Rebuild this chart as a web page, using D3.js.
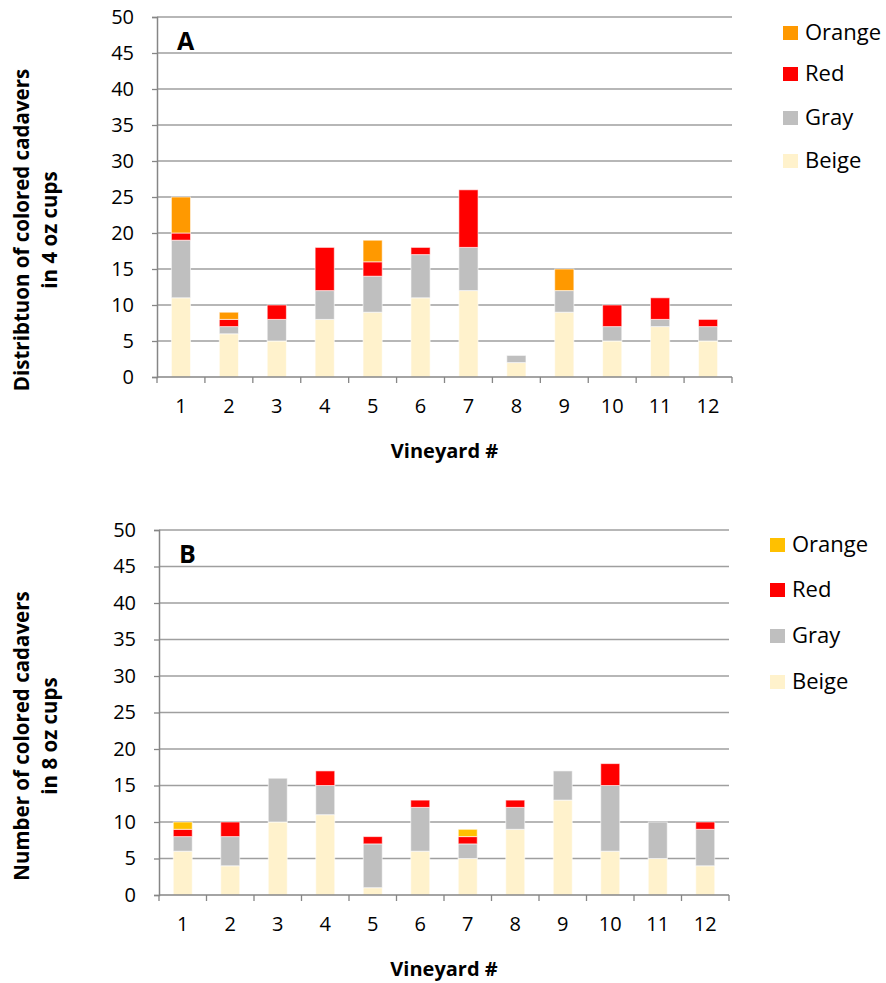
<!DOCTYPE html>
<html>
<head>
<meta charset="utf-8">
<script src="https://cdn.jsdelivr.net/npm/d3@7"></script>
<style>
  body { margin: 0; background: #fff; }
  text { font-family: "Open Sans", "Noto Sans", sans-serif; fill: #000; }
</style>
</head>
<body>
<div id="chart"></div>
<script>
// data
const vineyards = ["1","2","3","4","5","6","7","8","9","10","11","12"];
const colorNames = ["Beige", "Gray", "Red", "Orange"];
const yTicks = [0, 5, 10, 15, 20, 25, 30, 35, 40, 45, 50];

// panel A: 4 oz cups
const beigeA  = [11, 6, 5, 8, 9, 11, 12, 2, 9, 5, 7, 5];
const grayA   = [8, 1, 3, 4, 5, 6, 6, 1, 3, 2, 1, 2];
const redA    = [1, 1, 2, 6, 2, 1, 8, 0, 0, 3, 3, 1];
const orangeA = [5, 1, 0, 0, 3, 0, 0, 0, 3, 0, 0, 0];

// panel B: 8 oz cups
const beigeB  = [6, 4, 10, 11, 1, 6, 5, 9, 13, 6, 5, 4];
const grayB   = [2, 4, 6, 4, 6, 6, 2, 3, 4, 9, 5, 5];
const redB    = [1, 2, 0, 2, 1, 1, 1, 1, 0, 3, 0, 1];
const orangeB = [1, 0, 0, 0, 0, 0, 1, 0, 0, 0, 0, 0];

const width = 886, height = 983;

const svg = d3.select("#chart").append("svg")
  .attr("width", width)
  .attr("height", height);

const panels = [
  {
    letter: "A",
    series: [beigeA, grayA, redA, orangeA],
    colors: ["#FFF2CC", "#BFBFBF", "#FF0000", "#FF9900"],
    title: ["Distribtuon of colored cadavers", "in 4 oz cups"],
    titleY: 230,
    x0: 157, x1: 732, yTop: 17, yBot: 377,
    legendX: 783, legendY: [33, 74, 118, 161]
  },
  {
    letter: "B",
    series: [beigeB, grayB, redB, orangeB],
    colors: ["#FFF2CC", "#BFBFBF", "#FF0000", "#FFC000"],
    title: ["Number of colored cadavers", "in 8 oz cups"],
    titleY: 736,
    x0: 159, x1: 729, yTop: 530, yBot: 895,
    legendX: 770, legendY: [545, 590, 636, 682]
  }
];

panels.forEach(p => drawPanel(p));

function drawPanel(p) {
  const g = svg.append("g");

  const x = d3.scaleBand()
    .domain(vineyards)
    .range([p.x0, p.x1])
    .paddingInner(0.6)
    .paddingOuter(0.3);

  const y = d3.scaleLinear()
    .domain([0, 50])
    .range([p.yBot, p.yTop]);

  // gridlines
  g.selectAll(".grid")
    .data(yTicks.filter(d => d > 0))
    .join("line")
    .attr("x1", p.x0).attr("x2", p.x1)
    .attr("y1", d => y(d)).attr("y2", d => y(d))
    .attr("stroke", "#9f9f9f")
    .attr("stroke-width", 1.3);

  // stacked bars
  const rows = vineyards.map((v, i) => {
    const r = { v };
    colorNames.forEach((c, k) => r[c] = p.series[k][i]);
    return r;
  });
  const stacked = d3.stack().keys(colorNames)(rows);

  g.selectAll(".layer")
    .data(stacked)
    .join("g")
    .attr("fill", (d, k) => p.colors[k])
    .selectAll("rect")
    .data(d => d.filter(s => s[1] - s[0] > 0))
    .join("rect")
    .attr("x", d => x(d.data.v))
    .attr("width", x.bandwidth())
    .attr("y", d => y(d[1]))
    .attr("height", d => y(d[0]) - y(d[1]))
    .attr("stroke", "#ffffff")
    .attr("stroke-opacity", 0.6)
    .attr("stroke-width", 1);

  // y axis
  const yAxis = g.append("g")
    .attr("transform", `translate(${p.x0},0)`)
    .call(d3.axisLeft(y).tickValues(yTicks).tickSize(5).tickPadding(18));
  yAxis.select(".domain").attr("stroke", "#868686").attr("stroke-width", 1.5);
  yAxis.selectAll(".tick line").attr("stroke", "#868686").attr("stroke-width", 1.3);
  yAxis.selectAll(".tick text")
    .style("font-size", "20px")
    .style("font-family", "'Open Sans', sans-serif")
    .attr("fill", "#000");

  // x axis: ticks between categories
  const step = (p.x1 - p.x0) / vineyards.length;
  const xAxis = g.append("g")
    .attr("transform", `translate(0,${p.yBot})`)
    .call(d3.axisBottom(x).tickSize(0).tickPadding(22));
  xAxis.select(".domain").remove();
  xAxis.append("line")
    .attr("x1", p.x0).attr("x2", p.x1)
    .attr("stroke", "#868686").attr("stroke-width", 1.5);
  xAxis.selectAll(".sep")
    .data(d3.range(vineyards.length + 1))
    .join("line")
    .attr("x1", i => p.x0 + i * step).attr("x2", i => p.x0 + i * step)
    .attr("y1", 0).attr("y2", 6)
    .attr("stroke", "#868686").attr("stroke-width", 1.3);
  xAxis.selectAll(".tick text")
    .style("font-size", "20px")
    .style("font-family", "'Open Sans', sans-serif")
    .attr("fill", "#000");

  // x title
  g.append("text")
    .attr("x", (p.x0 + p.x1) / 2)
    .attr("y", p.yBot + 81)
    .attr("text-anchor", "middle")
    .style("font-size", "20px")
    .style("font-weight", "bold")
    .text("Vineyard #");

  // y title, two lines
  p.title.forEach((line, i) => {
    g.append("text")
      .attr("transform", `translate(${29 + i * 28},${p.titleY}) rotate(-90)`)
      .attr("text-anchor", "middle")
      .style("font-size", "20.5px")
      .style("font-weight", "bold")
      .text(line);
  });

  // panel letter
  g.append("text")
    .attr("x", p.x0 + 20)
    .attr("y", p.yTop + 33)
    .style("font-size", "25px")
    .style("font-weight", "bold")
    .text(p.letter);

  // legend, Orange on top
  const lg = g.selectAll(".leg")
    .data(colorNames.slice().reverse())
    .join("g")
    .attr("transform", (d, k) => `translate(${p.legendX},${p.legendY[k]})`);
  lg.append("rect")
    .attr("x", 0).attr("y", -7)
    .attr("width", 15).attr("height", 14)
    .attr("fill", d => p.colors[colorNames.indexOf(d)]);
  lg.append("text")
    .attr("x", 22).attr("y", 7)
    .style("font-size", "22px")
    .text(d => d);
}
</script>
</body>
</html>
